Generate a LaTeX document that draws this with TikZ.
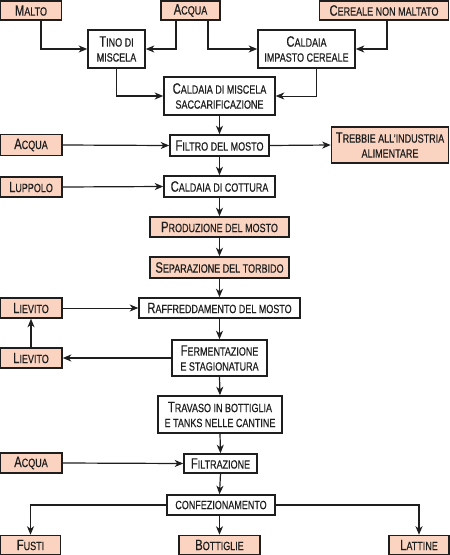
\documentclass[tikz,border=0pt]{standalone}
\usepackage{fontspec}
\setmainfont[FakeStretch=0.75,FakeBold=0.4]{Liberation Sans}
\usetikzlibrary{arrows.meta}
\definecolor{salmon}{RGB}{250,211,193}
\definecolor{ink}{RGB}{30,30,30}
\newcommand\sct[1]{{\fontsize{12}{15}\selectfont\MakeUppercase{#1}}}
\newcommand\bgl[1]{{\fontsize{15}{15}\selectfont #1}}
\newcommand\T[2]{\bgl{#1}\sct{#2}}
\begin{document}
\begin{tikzpicture}[x=1pt,y=-1pt,
  box/.style={draw=ink,line width=1.5pt,fill=white,inner sep=0pt,align=center,
    text=ink,font=\fontsize{12}{15}\selectfont},
  inbox/.style={box,fill=salmon},
  arr/.style={draw=ink,line width=1.2pt,-{Stealth[length=8.5pt,width=7pt,inset=2.5pt]}},
  thin/.style={arr,line width=0.7pt}]
\useasboundingbox (0,0) rectangle (450,555);
% top row
\node[inbox,minimum width=61,minimum height=19] (malto) at (31,10.5) {\T{M}{alto}};
\node[inbox,minimum width=59,minimum height=19] (acqua1) at (190.5,10.5) {\T{A}{cqua}};
\node[inbox,minimum width=129,minimum height=19] (cereale) at (384,10.5) {\T{C}{ereale non maltato}};
\node[box,minimum width=57,minimum height=38] (tino) at (116.5,49) {\T{T}{ino di}\\\sct{miscela}};
\node[box,minimum width=97,minimum height=38] (impasto) at (306.5,49) {\T{C}{aldaia}\\\sct{impasto cereale}};
\node[box,minimum width=111,minimum height=38] (sacc) at (219.5,96) {\T{C}{aldaia di miscela}\\\sct{saccarificazione}};
% filtro
\node[inbox,minimum width=62,minimum height=21] (acqua2) at (31,145) {\T{A}{cqua}};
\node[box,minimum width=99,minimum height=21] (filtro) at (219.5,145.5) {\T{F}{iltro del mosto}};
\node[inbox,minimum width=117,minimum height=36] (trebbie) at (390,145) {\T{T}{rebbie all’industria}\\\sct{alimentare}};
\node[inbox,minimum width=62,minimum height=20] (luppolo) at (31,187) {\T{L}{uppolo}};
\node[box,minimum width=111,minimum height=21] (cottura) at (219.5,186.5) {\T{C}{aldaia di cottura}};
\node[inbox,minimum width=139,minimum height=20] (prod) at (219.5,227) {\T{P}{roduzione del mosto}};
\node[inbox,minimum width=139,minimum height=21] (sep) at (219.5,267.5) {\T{S}{eparazione del torbido}};
\node[inbox,minimum width=62,minimum height=20] (liev1) at (31,308) {\T{L}{ievito}};
\node[box,minimum width=161,minimum height=20] (raff) at (219.5,308) {\T{R}{affreddamento del mosto}};
\node[box,minimum width=95,minimum height=36] (ferm) at (219.5,358) {\T{F}{ermentazione}\\\sct{e stagionatura}};
\node[inbox,minimum width=62,minimum height=20] (liev2) at (31,358) {\T{L}{ievito}};
\node[box,minimum width=124,minimum height=37] (trav) at (220,414.5) {\T{T}{ravaso in bottiglia}\\\sct{e tanks nelle cantine}};
\node[inbox,minimum width=62,minimum height=20] (acqua3) at (31,463) {\T{A}{cqua}};
\node[box,minimum width=73,minimum height=19] (filtr) at (220.5,463.5) {\T{F}{iltrazione}};
\node[box,minimum width=108,minimum height=20] (conf) at (221,505) {\sct{confezionamento}};
\node[inbox,minimum width=60,minimum height=19] (fusti) at (30.5,545) {\T{F}{usti}};
\node[inbox,minimum width=81,minimum height=19] (bott) at (219.5,545) {\T{B}{ottiglie}};
\node[inbox,minimum width=60,minimum height=19] (latt) at (419,545) {\T{L}{attine}};
% connectors
\draw[arr] ([xshift=10]malto.south) |- (tino.west);
\draw[arr] ([xshift=-14.5]acqua1.south) |- (tino.east);
\draw[arr] ([xshift=17.5]acqua1.south) |- (impasto.west);
\draw[arr] ([xshift=3]cereale.south) |- (impasto.east);
\draw[arr] (tino.south) |- (sacc.west);
\draw[thin] ([xshift=9.5]impasto.south) |- (sacc.east);
\draw[arr] (sacc.south) -- (filtro.north);
\draw[arr] (acqua2.east) -- (filtro.west);
\draw[arr] (filtro.east) -- (trebbie.west);
\draw[arr] (filtro.south) -- (cottura.north);
\draw[arr] (luppolo.east) -- (cottura.west);
\draw[arr] (cottura.south) -- (prod.north);
\draw[arr] (prod.south) -- (sep.north);
\draw[arr] (sep.south) -- (raff.north);
\draw[thin] (liev1.east) -- (raff.west);
\draw[arr] (raff.south) -- (ferm.north);
\draw[arr] (ferm.west) -- (liev2.east);
\draw[arr] (liev2.north) -- (liev1.south);
\draw[arr] (ferm.south) -- (trav.north);
\draw[arr] (trav.south) -- (filtr.north);
\draw[arr] (acqua3.east) -- (filtr.west);
\draw[arr] (filtr.south) -- ([xshift=-1.5]conf.north);
\draw[arr] (conf.west) -| (fusti.north);
\draw[arr] ([xshift=-1.5]conf.south) -- (bott.north);
\draw[arr] (conf.east) -| (latt.north);
\end{tikzpicture}
\end{document}
